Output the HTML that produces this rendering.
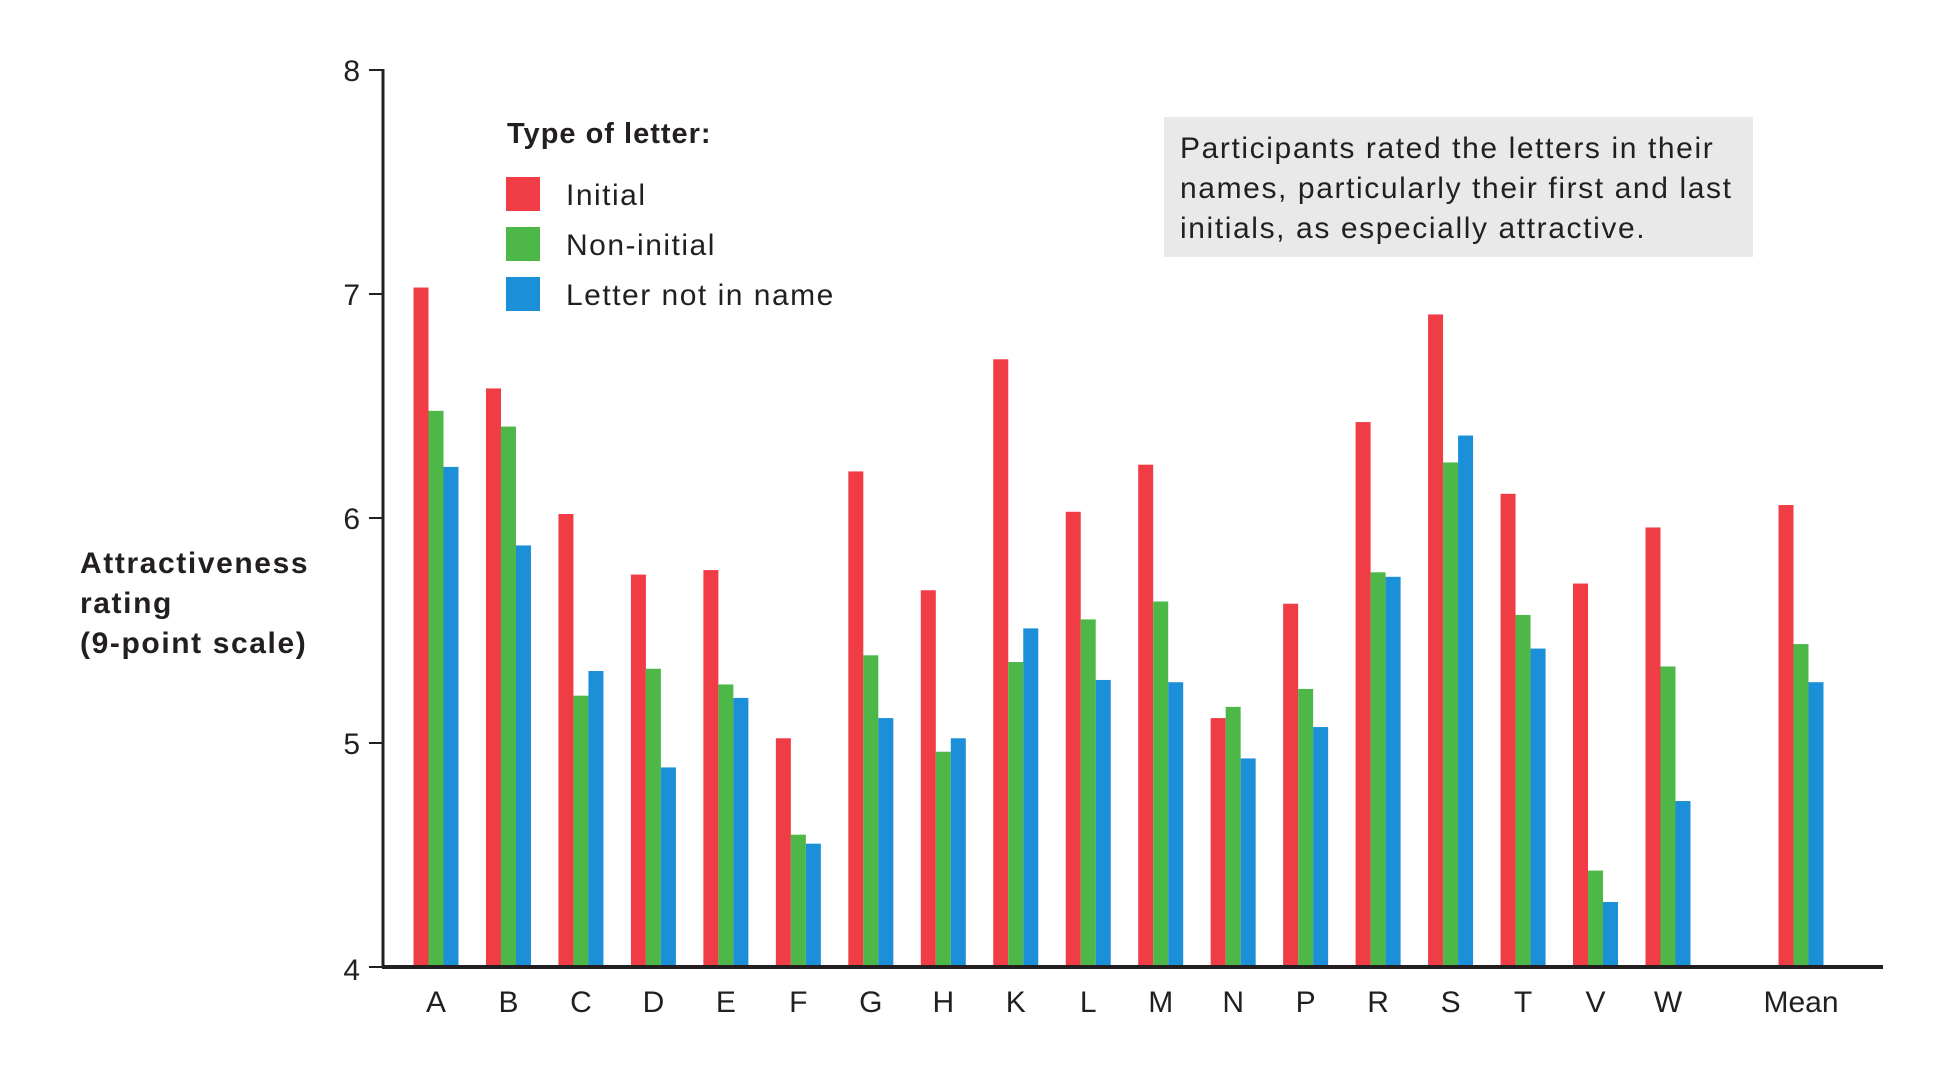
<!DOCTYPE html>
<html><head><meta charset="utf-8"><style>
html,body{margin:0;padding:0;background:#fff;}
svg{display:block;}
text{font-family:"Liberation Sans",Arial,sans-serif;fill:#231f20;}
</style></head><body>
<svg width="1945" height="1071" viewBox="0 0 1945 1071" xmlns="http://www.w3.org/2000/svg">
<rect width="1945" height="1071" fill="#fff"/>
<!-- note box -->
<rect x="1164" y="117" width="589" height="140" fill="#e9e9e9"/>
<g font-size="30" letter-spacing="1.6">
<text x="1180" y="158">Participants rated the letters in their</text>
<text x="1180" y="198">names, particularly their first and last</text>
<text x="1180" y="238">initials, as especially attractive.</text>
</g>
<!-- legend -->
<text x="507" y="143" font-size="29" font-weight="bold" letter-spacing="1">Type of letter:</text>
<rect x="506" y="177" width="34" height="34" fill="#f03c45"/>
<rect x="506" y="227" width="34" height="34" fill="#4db848"/>
<rect x="506" y="277" width="34" height="34" fill="#1b8fd8"/>
<g font-size="30" letter-spacing="1.5">
<text x="566" y="205">Initial</text>
<text x="566" y="255">Non-initial</text>
<text x="566" y="305">Letter not in name</text>
</g>
<!-- y label -->
<g font-size="30" font-weight="bold" letter-spacing="1.6">
<text x="80" y="573">Attractiveness</text>
<text x="80" y="613">rating</text>
<text x="80" y="653">(9-point scale)</text>
</g>
<g id="bars"></g>
<!-- axes -->
<line x1="383" y1="69" x2="383" y2="968" stroke="#231f20" stroke-width="3"/>
<line x1="382" y1="967" x2="1883" y2="967" stroke="#231f20" stroke-width="4"/>
<g stroke="#231f20" stroke-width="2">
<line x1="369" y1="70" x2="384" y2="70"/>
<line x1="369" y1="294" x2="384" y2="294"/>
<line x1="369" y1="518" x2="384" y2="518"/>
<line x1="369" y1="743" x2="384" y2="743"/>
<line x1="369" y1="967" x2="384" y2="967"/>
</g>
<g font-size="30" text-anchor="end">
<text x="360" y="81">8</text>
<text x="360" y="305">7</text>
<text x="360" y="529">6</text>
<text x="360" y="754">5</text>
<text x="360" y="980">4</text>
</g>
<g id="labels" font-size="30" text-anchor="middle"></g>
</svg>
<script>
var d=[["A",7.03,6.48,6.23],["B",6.58,6.41,5.88],["C",6.02,5.21,5.32],["D",5.75,5.33,4.89],["E",5.77,5.26,5.20],["F",5.02,4.59,4.55],["G",6.21,5.39,5.11],["H",5.68,4.96,5.02],["K",6.71,5.36,5.51],["L",6.03,5.55,5.28],["M",6.24,5.63,5.27],["N",5.11,5.16,4.93],["P",5.62,5.24,5.07],["R",6.43,5.76,5.74],["S",6.91,6.25,6.37],["T",6.11,5.57,5.42],["V",5.71,4.43,4.29],["W",5.96,5.34,4.74],["Mean",6.06,5.44,5.27]];
var cols=["#f03c45","#4db848","#1b8fd8"];
var ns="http://www.w3.org/2000/svg",g=document.getElementById("bars"),lg=document.getElementById("labels");
d.forEach(function(r,i){
 var c=i<18?436+72.47*i:1801;
 for(var k=0;k<3;k++){
  var y=967-(r[k+1]-4)*224.25;
  var e=document.createElementNS(ns,"rect");
  e.setAttribute("x",c-22.5+15*k);e.setAttribute("y",y);
  e.setAttribute("width",15);e.setAttribute("height",967-y);
  e.setAttribute("fill",cols[k]);g.appendChild(e);
 }
 var t=document.createElementNS(ns,"text");
 t.setAttribute("x",c);t.setAttribute("y",1012);t.textContent=r[0];lg.appendChild(t);
});
</script>
</body></html>
